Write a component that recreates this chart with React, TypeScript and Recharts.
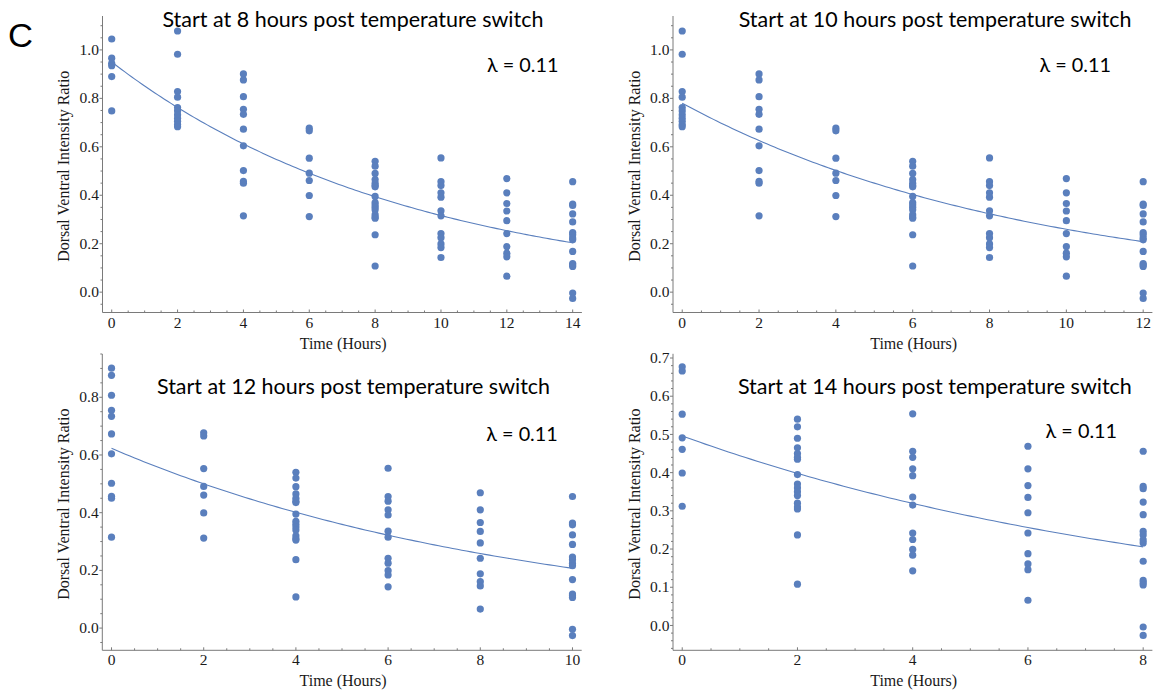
import React from 'react';
import { ComposedChart, Scatter, Line, XAxis, YAxis } from 'recharts';

// Dorsal/ventral intensity ratios of individual embryos, grouped by hours after the temperature switch
const h8 = [1.045, 0.966, 0.945, 0.935, 0.89, 0.748];
const h10 = [1.078, 0.982, 0.828, 0.805, 0.762, 0.748, 0.732, 0.718, 0.705, 0.692, 0.683];
const h12 = [0.901, 0.876, 0.807, 0.755, 0.734, 0.673, 0.604, 0.502, 0.457, 0.45, 0.315];
const h14 = [0.677, 0.666, 0.553, 0.491, 0.461, 0.399, 0.312];
const h16 = [0.54, 0.52, 0.49, 0.465, 0.45, 0.44, 0.435, 0.395, 0.37, 0.36, 0.35, 0.34, 0.32, 0.31, 0.305, 0.237, 0.108];
const h18 = [0.554, 0.456, 0.44, 0.41, 0.392, 0.336, 0.315, 0.242, 0.225, 0.199, 0.184, 0.143];
const h20 = [0.469, 0.41, 0.366, 0.335, 0.295, 0.242, 0.188, 0.161, 0.146, 0.066];
const h22 = [0.456, 0.364, 0.358, 0.323, 0.29, 0.246, 0.237, 0.224, 0.216, 0.168, 0.118, 0.112, 0.106, -0.004, -0.026];

const sampleHours = [8, 10, 12, 14, 16, 18, 20, 22];
const sampleColumns = [h8, h10, h12, h14, h16, h18, h20, h22];

// Exponential decay fits y = A * exp(-lambda * t), one per starting hour
const LAMBDA = 0.11;
const startHours = [8, 10, 12, 14];
const fitAmplitudes = [0.95, 0.78, 0.623, 0.496];
const fitEnds = [14, 12, 10, 8];

// Tick labels
const xTickLabels = [
  [0, 2, 4, 6, 8, 10, 12, 14],
  [0, 2, 4, 6, 8, 10, 12],
  [0, 2, 4, 6, 8, 10],
  [0, 2, 4, 6, 8],
];
const yTickLabels = [
  [0.0, 0.2, 0.4, 0.6, 0.8, 1.0],
  [0.0, 0.2, 0.4, 0.6, 0.8, 1.0],
  [0.0, 0.2, 0.4, 0.6, 0.8],
  [0.0, 0.1, 0.2, 0.3, 0.4, 0.5, 0.6, 0.7],
];
const yDomains: [number, number][] = [
  [-0.084, 1.14],
  [-0.084, 1.14],
  [-0.077, 0.95],
  [-0.065, 0.711],
];

const TITLE = (h: number) => `Start at ${h} hours post temperature switch`;
const LAMBDA_TEXT = `λ = ${LAMBDA}`;

// ---- layout & style ----
const PAGE_W = 1156;
const PAGE_H = 692;
const DOT = '#5a7fbd';
const AXIS = '#7a7a7a';
const INK = '#1a1a1a';
const SERIF = '"Liberation Serif", "Times New Roman", serif';
const SANS = 'Lato, "Open Sans", sans-serif';
const TICK_FONT = 15.5;
const LABEL_FONT = 16;

type Rect = { left: number; right: number; top: number; bottom: number };
const plotRects: Rect[] = [
  { left: 102.5, right: 581.9, top: 16, bottom: 312.5 },
  { left: 673, right: 1152.4, top: 16, bottom: 312.5 },
  { left: 102.3, right: 581.7, top: 354, bottom: 650.3 },
  { left: 673, right: 1152.4, top: 353.8, bottom: 650.3 },
];
const yMinorSteps = [0.05, 0.05, 0.05, 0.02];

const titlePos = [
  { x: 162.4, y: 26.7, len: 381 },
  { x: 738.7, y: 26.7, len: 392.7 },
  { x: 157, y: 394, len: 393 },
  { x: 737.9, y: 394, len: 394 },
];
const lambdaPos = [
  { x: 487, y: 71.5 },
  { x: 1039.5, y: 71.5 },
  { x: 486.3, y: 441 },
  { x: 1045.6, y: 437.7 },
];

const near = (a: number, list: number[]) => list.some((b) => Math.abs(a - b) < 1e-6);

const stepTicks = (lo: number, hi: number, step: number) => {
  const out: number[] = [];
  for (let k = Math.ceil(lo / step - 1e-9); k * step <= hi + 1e-9; k++) {
    out.push(Math.round(k * step * 1000) / 1000);
  }
  return out;
};

function Panel({ idx }: { idx: number }) {
  const start = startHours[idx];
  const r = plotRects[idx];
  const tEnd = fitEnds[idx];
  const xPad = tEnd * 0.02;
  const xDomain: [number, number] = [-xPad, tEnd + xPad];
  const yDomain = yDomains[idx];

  const points: { x: number; y: number }[] = [];
  sampleHours.forEach((h, i) => {
    if (h < start) return;
    sampleColumns[i].forEach((v) => points.push({ x: h - start, y: v }));
  });

  const A = fitAmplitudes[idx];
  const curve: { x: number; y: number }[] = [];
  for (let k = 0; k <= tEnd * 10; k++) {
    const t = k / 10;
    curve.push({ x: t, y: A * Math.exp(-LAMBDA * t) });
  }

  const xMajor = xTickLabels[idx];
  const yMajor = yTickLabels[idx];
  const xTicks = stepTicks(0, tEnd, 0.5);
  const yTicks = stepTicks(yDomain[0], yDomain[1], yMinorSteps[idx]);

  const XTick = (p: any) => {
    const v = p.payload.value;
    const major = near(v, xMajor);
    return (
      <g>
        <line x1={p.x} x2={p.x} y1={p.y} y2={p.y - (major ? 3 : 2)} stroke={AXIS} strokeWidth={1} />
        {major && (
          <text x={p.x} y={p.y + 15} textAnchor="middle" fontFamily={SERIF} fontSize={TICK_FONT} fill={INK}>
            {String(v)}
          </text>
        )}
      </g>
    );
  };

  const YTick = (p: any) => {
    const v = p.payload.value;
    const major = near(v, yMajor);
    return (
      <g>
        <line x1={p.x - (major ? 3 : 2)} x2={p.x} y1={p.y} y2={p.y} stroke={AXIS} strokeWidth={1} />
        {major && (
          <text x={p.x - 3.6} y={p.y + 5.1} textAnchor="end" fontFamily={SERIF} fontSize={TICK_FONT} fill={INK}>
            {v.toFixed(1)}
          </text>
        )}
      </g>
    );
  };

  return (
    <div style={{ position: 'absolute', left: 0, top: 0 }}>
      <ComposedChart
        width={PAGE_W}
        height={PAGE_H}
        margin={{ top: r.top, right: PAGE_W - r.right, bottom: 0, left: 0 }}
      >
        <XAxis
          type="number"
          dataKey="x"
          domain={xDomain}
          allowDataOverflow
          ticks={xTicks}
          interval={0}
          tick={XTick}
          tickLine={false}
          tickSize={0}
          tickMargin={0}
          axisLine={{ stroke: AXIS, strokeWidth: 1 }}
          height={PAGE_H - r.bottom}
        />
        <YAxis
          type="number"
          dataKey="y"
          domain={yDomain}
          allowDataOverflow
          ticks={yTicks}
          interval={0}
          tick={YTick}
          tickLine={false}
          tickSize={0}
          tickMargin={0}
          axisLine={{ stroke: AXIS, strokeWidth: 1 }}
          width={r.left}
        />
        <Scatter
          data={points}
          dataKey="y"
          isAnimationActive={false}
          fill={DOT}
          shape={(p: any) => <circle cx={p.cx} cy={p.cy} r={3.6} fill={DOT} />}
        />
        <Line
          data={curve}
          dataKey="y"
          type="linear"
          dot={false}
          activeDot={false}
          stroke={DOT}
          strokeWidth={1.1}
          isAnimationActive={false}
        />
      </ComposedChart>
    </div>
  );
}

export default function App() {
  const panels = [0, 1, 2, 3];
  return (
    <div
      style={{
        position: 'absolute',
        left: 0,
        top: 0,
        width: PAGE_W,
        height: PAGE_H,
        background: '#ffffff',
        overflow: 'hidden',
      }}
    >
      {panels.map((i) => (
        <Panel key={i} idx={i} />
      ))}
      <svg
        width={PAGE_W}
        height={PAGE_H}
        style={{ position: 'absolute', left: 0, top: 0, pointerEvents: 'none' }}
      >
        <text x={8} y={47} fontFamily='"Liberation Sans", Arial, sans-serif' fontSize={33} fill="#000"
          textLength={25} lengthAdjust="spacingAndGlyphs">
          C
        </text>
        {panels.map((i) => (
          <g key={i}>
            <text
              x={titlePos[i].x}
              y={titlePos[i].y}
              fontFamily={SANS}
              fontSize={21.5}
              fill="#000"
              textLength={titlePos[i].len}
              lengthAdjust="spacingAndGlyphs"
            >
              {TITLE(startHours[i])}
            </text>
            <text
              x={lambdaPos[i].x}
              y={lambdaPos[i].y}
              fontFamily={SANS}
              fontSize={20}
              fill="#000"
              textLength={71.5}
              lengthAdjust="spacingAndGlyphs"
            >
              {LAMBDA_TEXT}
            </text>
            <text
              transform={`translate(${plotRects[i].left - 33.5}, ${(plotRects[i].top + plotRects[i].bottom) / 2 + 2}) rotate(-90)`}
              textAnchor="middle"
              fontFamily={SERIF}
              fontSize={LABEL_FONT}
              fill={INK}
            >
              Dorsal Ventral Intensity Ratio
            </text>
            <text
              x={(plotRects[i].left + plotRects[i].right) / 2 + 1}
              y={plotRects[i].bottom + 36}
              textAnchor="middle"
              fontFamily={SERIF}
              fontSize={LABEL_FONT}
              fill={INK}
            >
              Time (Hours)
            </text>
          </g>
        ))}
      </svg>
    </div>
  );
}
